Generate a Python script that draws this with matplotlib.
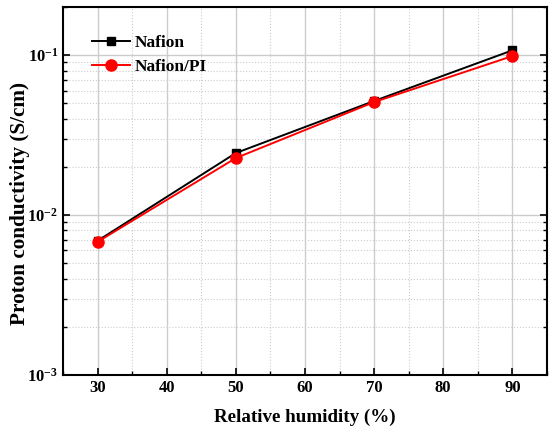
import matplotlib
matplotlib.use('Agg')
import matplotlib.pyplot as plt
from matplotlib.ticker import LogLocator, MultipleLocator, NullFormatter

plt.rcParams['font.family'] = ['Liberation Serif', 'DejaVu Serif']
plt.rcParams['font.weight'] = 'bold'
plt.rcParams['mathtext.fontset'] = 'custom'
plt.rcParams['mathtext.rm'] = 'Liberation Serif:bold'
plt.rcParams['mathtext.default'] = 'rm'

rh = [30, 50, 70, 90]
nafion = [0.0069, 0.0244, 0.0516, 0.107]
nafion_pi = [0.0068, 0.0227, 0.0508, 0.0985]

fig = plt.figure(figsize=(5.53, 4.30), dpi=100)
ax = fig.add_axes([0.114, 0.128, 0.875, 0.856])

ax.plot(rh, nafion, '-', color='black', marker='s', markersize=6, lw=1.4, label='Nafion')
ax.plot(rh, nafion_pi, '-', color='red', marker='o', markersize=8, lw=1.4, label='Nafion/PI')

ax.set_yscale('log')
ax.set_xlim(25, 95)
ax.set_ylim(1e-3, 0.2)
ax.xaxis.set_major_locator(MultipleLocator(10))
ax.xaxis.set_minor_locator(MultipleLocator(5))
ax.yaxis.set_major_locator(LogLocator(base=10, numticks=10))
ax.yaxis.set_minor_locator(LogLocator(base=10, subs=range(2, 10), numticks=10))
ax.yaxis.set_minor_formatter(NullFormatter())

ax.grid(True, which='major', color='#cccccc', lw=1.0, ls='-')
ax.grid(True, which='minor', color='#cccccc', lw=0.8, ls=':')
ax.set_axisbelow(True)

ax.tick_params(which='both', direction='in', right=True, top=False, labelsize=12)
ax.tick_params(which='major', length=5, width=1.2)
ax.tick_params(which='minor', length=3, width=1.0)
for s in ax.spines.values():
    s.set_linewidth(1.5)

ax.set_xlabel('Relative humidity (%)', fontsize=13.7, fontweight='bold', labelpad=9)
ax.set_ylabel('Proton conductivity (S/cm)', fontsize=15.3, fontweight='bold')
ax.yaxis.set_label_coords(-0.068, 0.466)

ax.legend(loc='upper left', frameon=False, fontsize=12.5, bbox_to_anchor=(0.06, 0.925),
          handlelength=2.2, handletextpad=0.25, labelspacing=0.45,
          borderaxespad=0, borderpad=0)

fig.savefig('out.png', dpi=100)
